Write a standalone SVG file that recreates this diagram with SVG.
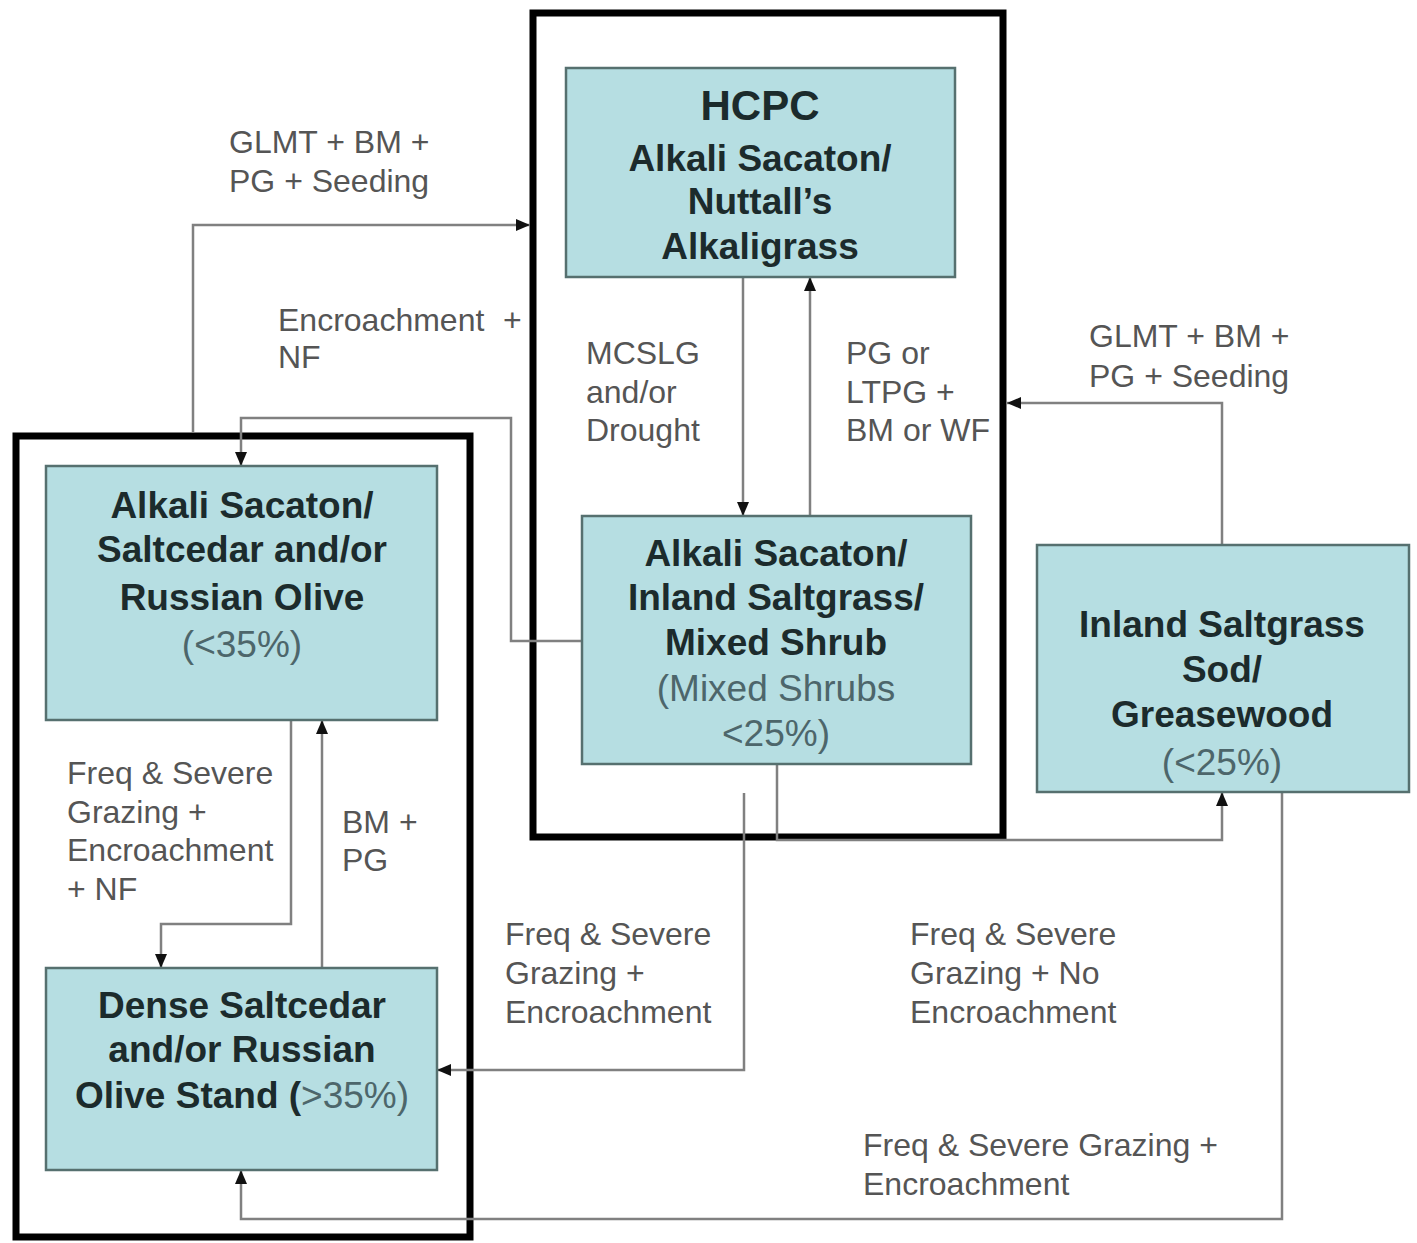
<svg xmlns="http://www.w3.org/2000/svg" width="1417" height="1243" viewBox="0 0 1417 1243">
<style>
.frame{fill:none;stroke:#000;stroke-width:7}
.box{fill:#b6dee2;stroke:#56706f;stroke-width:2.5}
.t{font-family:"Liberation Sans",Arial,sans-serif;font-size:37px;font-weight:bold;fill:#1c2b2c;text-anchor:middle}
.p{font-weight:normal;fill:#4d666b}
.lbl{font-family:"Liberation Sans",Arial,sans-serif;font-size:32px;fill:#555}
.c{fill:none;stroke:#808080;stroke-width:2.5}
</style>
<defs>
<marker id="a" markerUnits="userSpaceOnUse" markerWidth="14" markerHeight="12" viewBox="0 0 14 12" refX="14" refY="6" orient="auto">
<path d="M0,0 L14,6 L0,12 z" fill="#111"/>
</marker>
</defs>
<rect width="1417" height="1243" fill="#fff"/>
<g id="frames">
<rect class="frame" x="533" y="13" width="470" height="824"/>
<rect class="frame" x="16" y="436" width="454" height="801"/>
</g>
<g id="connectors">
<path class="c" d="M193,433 V225 H530" marker-end="url(#a)"/>
<path class="c" d="M582,641 H511 V418 H241 V466" marker-end="url(#a)"/>
<path class="c" d="M743,277 V516" marker-end="url(#a)"/>
<path class="c" d="M810,516 V277" marker-end="url(#a)"/>
<path class="c" d="M1222,545 V403 H1007" marker-end="url(#a)"/>
<path class="c" d="M291,720 V924 H161 V968" marker-end="url(#a)"/>
<path class="c" d="M322,968 V720" marker-end="url(#a)"/>
<path class="c" d="M744,793 V1070 H437" marker-end="url(#a)"/>
<path class="c" d="M777,764 V840 H1222 V792" marker-end="url(#a)"/>
<path class="c" d="M1282,792 V1219 H241 V1170" marker-end="url(#a)"/>
</g>
<g id="labels">
<text class="lbl" x="229" y="153">GLMT + BM +</text>
<text class="lbl" x="229" y="192">PG + Seeding</text>
<text class="lbl" x="278" y="331">Encroachment<tspan x="503">+</tspan></text>
<text class="lbl" x="278" y="368">NF</text>
<text class="lbl" x="586" y="364">MCSLG</text>
<text class="lbl" x="586" y="403">and/or</text>
<text class="lbl" x="586" y="441">Drought</text>
<text class="lbl" x="846" y="364">PG or</text>
<text class="lbl" x="846" y="403">LTPG +</text>
<text class="lbl" x="846" y="441">BM or WF</text>
<text class="lbl" x="1089" y="347">GLMT + BM +</text>
<text class="lbl" x="1089" y="387">PG + Seeding</text>
<text class="lbl" x="67" y="784">Freq &amp; Severe</text>
<text class="lbl" x="67" y="823">Grazing +</text>
<text class="lbl" x="67" y="861">Encroachment</text>
<text class="lbl" x="67" y="900">+ NF</text>
<text class="lbl" x="342" y="833">BM +</text>
<text class="lbl" x="342" y="871">PG</text>
<text class="lbl" x="505" y="945">Freq &amp; Severe</text>
<text class="lbl" x="505" y="984">Grazing +</text>
<text class="lbl" x="505" y="1023">Encroachment</text>
<text class="lbl" x="910" y="945">Freq &amp; Severe</text>
<text class="lbl" x="910" y="984">Grazing + No</text>
<text class="lbl" x="910" y="1023">Encroachment</text>
<text class="lbl" x="863" y="1156">Freq &amp; Severe Grazing +</text>
<text class="lbl" x="863" y="1195">Encroachment</text>
</g>
<g id="hcpc">
<rect class="box" x="566" y="68" width="389" height="209"/>
<text class="t" x="760" y="120" style="font-size:42px">HCPC</text>
<text class="t" x="760" y="171">Alkali Sacaton/</text>
<text class="t" x="760" y="214">Nuttall’s</text>
<text class="t" x="760" y="259">Alkaligrass</text>
</g>
<g id="mixed-shrub">
<rect class="box" x="582" y="516" width="389" height="248"/>
<text class="t" x="776" y="566">Alkali Sacaton/</text>
<text class="t" x="776" y="610">Inland Saltgrass/</text>
<text class="t" x="776" y="655">Mixed Shrub</text>
<text class="t p" x="776" y="701">(Mixed Shrubs</text>
<text class="t p" x="776" y="746">&lt;25%)</text>
</g>
<g id="saltcedar-open">
<rect class="box" x="46" y="466" width="391" height="254"/>
<text class="t" x="242" y="518">Alkali Sacaton/</text>
<text class="t" x="242" y="562">Saltcedar and/or</text>
<text class="t" x="242" y="610">Russian Olive</text>
<text class="t p" x="242" y="657">(&lt;35%)</text>
</g>
<g id="dense-saltcedar">
<rect class="box" x="46" y="968" width="391" height="202"/>
<text class="t" x="242" y="1018">Dense Saltcedar</text>
<text class="t" x="242" y="1062">and/or Russian</text>
<text class="t" x="242" y="1108">Olive Stand (<tspan class="p">&gt;35%)</tspan></text>
</g>
<g id="inland-saltgrass">
<rect class="box" x="1037" y="545" width="372" height="247"/>
<text class="t" x="1222" y="637">Inland Saltgrass</text>
<text class="t" x="1222" y="682">Sod/</text>
<text class="t" x="1222" y="727">Greasewood</text>
<text class="t p" x="1222" y="775">(&lt;25%)</text>
</g>
</svg>
